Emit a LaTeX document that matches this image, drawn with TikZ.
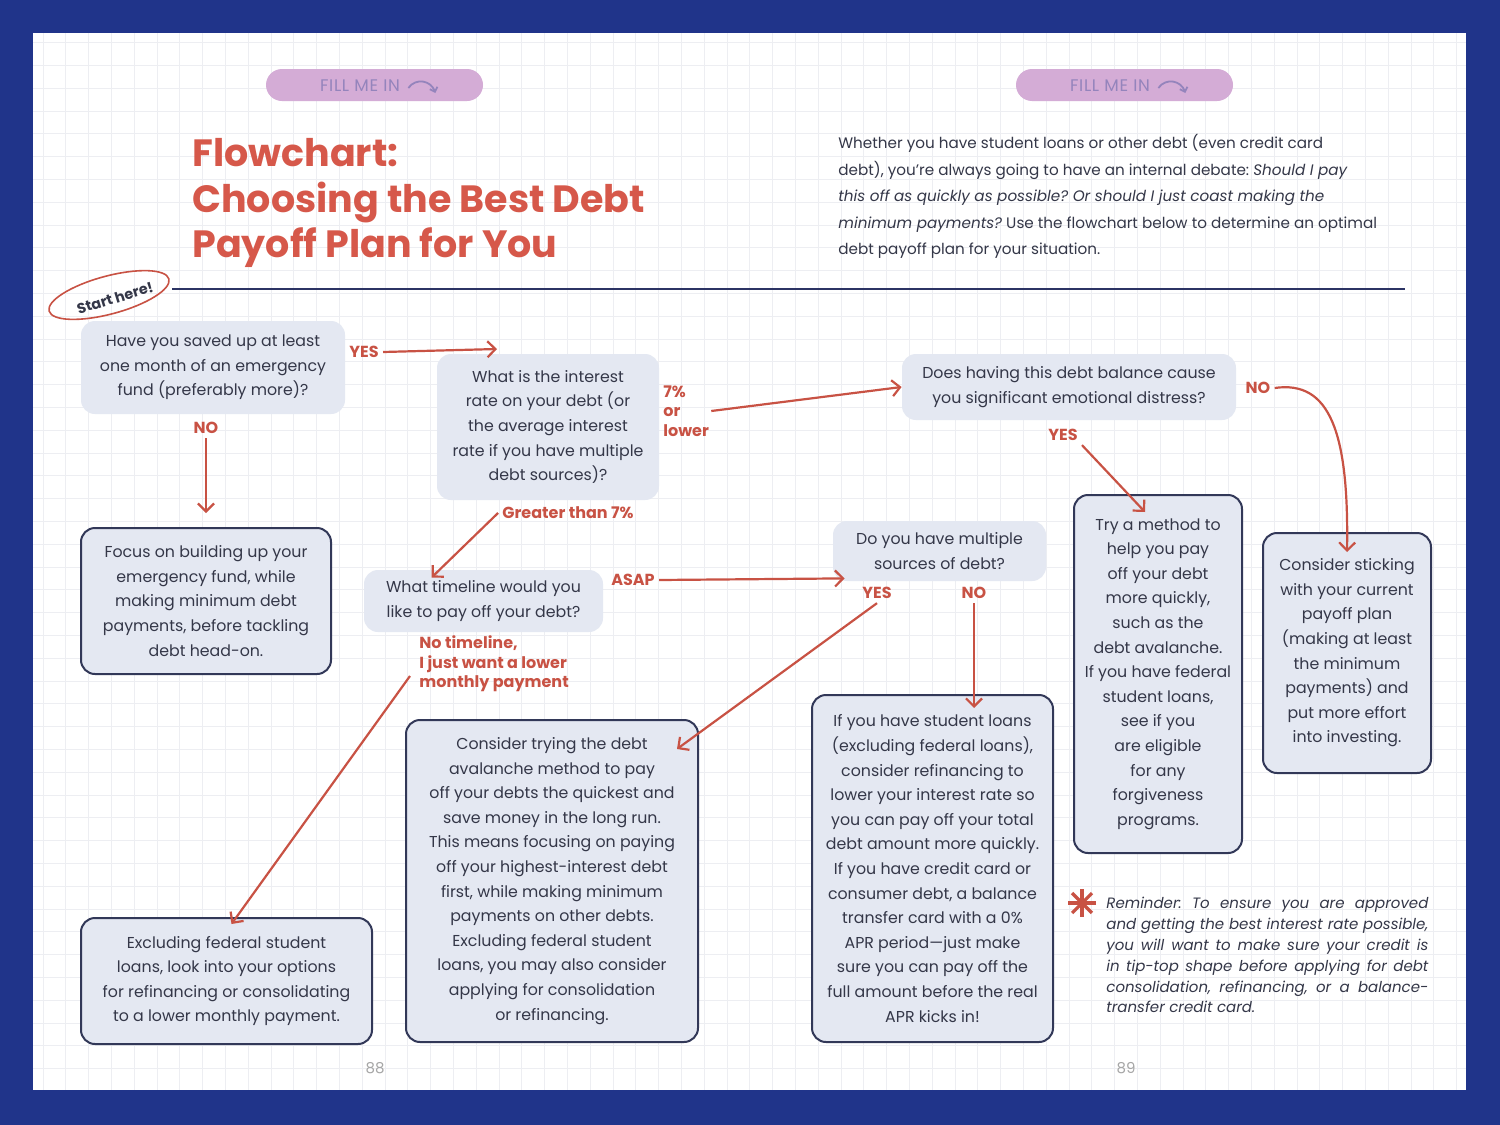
\documentclass[tikz,border=0pt]{standalone}
\usepackage{fontspec}
\setmainfont{Poppins}
\newfontfamily\pillfont{Poppins}[LetterSpace=4]
\usetikzlibrary{arrows.meta,positioning}
\definecolor{navy}{RGB}{32,52,138}
\definecolor{gridc}{RGB}{237,238,242}
\definecolor{boxfill}{RGB}{228,232,242}
\definecolor{boxline}{RGB}{50,56,88}
\definecolor{ink}{RGB}{52,55,72}
\definecolor{redc}{RGB}{200,82,68}
\definecolor{titlered}{RGB}{214,88,74}
\definecolor{pillc}{RGB}{212,172,214}
\definecolor{pilltext}{RGB}{148,132,188}
\definecolor{rulec}{RGB}{44,52,100}
\frenchspacing
\begin{document}
\begin{tikzpicture}[x=0.5pt,y=-0.5pt,
  qbox/.style={fill=boxfill,rounded corners=7pt,align=center,text=ink,inner sep=0pt,
    font=\fontsize{7.9}{12.3}\selectfont},
  rbox/.style={qbox,draw=boxline,line width=1pt},
  lbl/.style={text=redc,inner sep=2pt,font=\bfseries\fontsize{8}{9.75}\selectfont},
  arr/.style={draw=redc,line width=1.1pt,-{Straight Barb[length=4pt,width=8pt]}},
  pill/.style={fill=pillc,rounded corners=8pt,minimum width=108.5pt,minimum height=16pt,inner sep=0pt}]
\useasboundingbox (0,0) rectangle (1500,1125);
\fill[navy] (0,0) rectangle (1500,1125);
\fill[white] (33,33) rectangle (1466,1090);
% grid paper
\begin{scope}
\clip (33,33) rectangle (1466,1090);
\foreach \i in {0,...,62} \draw[gridc,line width=0.5pt] (43+\i*22.8,33) -- (43+\i*22.8,1090);
\foreach \j in {0,...,46} \draw[gridc,line width=0.5pt] (33,42.7+\j*22.8) -- (1466,42.7+\j*22.8);
\end{scope}
% header
\node[pill] (pillL) at (374.5,85) {};
\node[pill] (pillR) at (1124.5,85) {};
\node[inner sep=0pt,text=pilltext,font=\pillfont\fontsize{8.4}{9}\selectfont] (fillL) at (360,86) {FILL ME IN};
\node[inner sep=0pt,text=pilltext,font=\pillfont\fontsize{8.4}{9}\selectfont] (fillR) at (1110,86) {FILL ME IN};
\foreach \f in {fillL,fillR}
  \draw[pilltext,line width=0.9pt,-{Straight Barb[length=2pt,width=4pt]}] ([xshift=4pt,yshift=-1pt]\f.east) .. controls +(8,-11) and +(-4,-12) .. +(27,5);
\node[anchor=north west,align=left,inner sep=0pt,text=titlered,font=\bfseries\fontsize{19}{22.75}\selectfont] (title) at (192,138) {Flowchart:\\Choosing the Best Debt\\Payoff Plan for You};
\node[anchor=north west,align=left,inner sep=0pt,text=ink,font=\fontsize{7.6}{13.25}\selectfont] (intro) at (838,134)
  {Whether you have student loans or other debt (even credit card\\
   debt), you’re always going to have an internal debate: \textit{Should I pay}\\
   \textit{this off as quickly as possible? Or should I just coast making the}\\
   \textit{minimum payments?} Use the flowchart below to determine an optimal\\
   debt payoff plan for your situation.};
\draw[rulec,line width=0.8pt] (172,289) -- (1405,289);
\draw[redc,line width=0.8pt,rotate around={15:(109,295)}] (109,295) ellipse [x radius=31pt,y radius=9.5pt];
\node[rotate=17,inner sep=0pt,text=ink,font=\bfseries\fontsize{7.2}{8}\selectfont] (start) at (115,298) {Start here!};
% questions
\node[qbox,minimum width=132pt,minimum height=46.5pt] (q1) at (213,367.5)
  {Have you saved up at least\\one month of an emergency\\fund (preferably more)?};
\node[qbox,minimum width=111pt,minimum height=73pt] (q2) at (548,427)
  {What is the interest\\rate on your debt (or\\the average interest\\rate if you have multiple\\debt sources)?};
\node[qbox,minimum width=167pt,minimum height=33pt] (q3) at (1069,387)
  {Does having this debt balance cause\\you significant emotional distress?};
\node[qbox,minimum width=119.5pt,minimum height=31pt] (q4) at (483.5,601)
  {What timeline would you\\like to pay off your debt?};
\node[qbox,minimum width=106.5pt,minimum height=30pt] (q5) at (939.5,551)
  {Do you have multiple\\sources of debt?};
% results
\node[rbox,minimum width=125pt,minimum height=73pt] (r1) at (206,601)
  {Focus on building up your\\emergency fund, while\\making minimum debt\\payments, before tackling\\debt head-on.};
\node[rbox,minimum width=145.5pt,minimum height=63pt] (r2) at (226.5,981)
  {Excluding federal student\\loans, look into your options\\for refinancing or consolidating\\to a lower monthly payment.};
\node[rbox,minimum width=146pt,minimum height=161pt] (r3) at (552,881)
  {Consider trying the debt\\avalanche method to pay\\off your debts the quickest and\\save money in the long run.\\This means focusing on paying\\off your highest-interest debt\\first, while making minimum\\payments on other debts.\\Excluding federal student\\loans, you may also consider\\applying for consolidation\\or refinancing.};
\node[rbox,minimum width=120.5pt,minimum height=173.5pt] (r4) at (932.5,868.5)
  {If you have student loans\\(excluding federal loans),\\consider refinancing to\\lower your interest rate so\\you can pay off your total\\debt amount more quickly.\\If you have credit card or\\consumer debt, a balance\\transfer card with a 0\%\\APR period—just make\\sure you can pay off the\\full amount before the real\\APR kicks in!};
\node[rbox,minimum width=84pt,minimum height=179pt] (r5) at (1158,674)
  {Try a method to\\help you pay\\off your debt\\more quickly,\\such as the\\debt avalanche.\\If you have federal\\student loans,\\see if you\\are eligible\\for any\\forgiveness\\programs.};
\node[rbox,minimum width=84pt,minimum height=120pt] (r6) at (1347,653)
  {Consider sticking\\with your current\\payoff plan\\(making at least\\the minimum\\payments) and\\put more effort\\into investing.};
% answer labels
\node[lbl] (yes1) at (364,352) {YES};
\node[lbl] (no1) at (206,428) {NO};
\node[lbl,anchor=west,align=left,inner sep=0pt] (low) at (663,411) {7\%\\or\\lower};
\node[lbl] (gt) at (568,513) {Greater than 7\%};
\node[lbl,anchor=west,align=left,inner sep=0pt] (notl) at (419,664) {No timeline,\\I just want a lower\\monthly payment};
\node[lbl] (asap) at (633,580) {ASAP};
\node[lbl] (yes5) at (877,593) {YES};
\node[lbl] (no5) at (974,593) {NO};
\node[lbl] (yes3) at (1063,435) {YES};
\node[lbl] (no3) at (1258,388) {NO};
% connectors
\coordinate (q2in) at (497,349);
\coordinate (r4in) at ([yshift=-7pt]r4.north);
\draw[arr] (yes1.east) -- (q2in);
\draw[arr] (no1.south) -- ([yshift=7pt]r1.north);
\draw[arr] ([xshift=1pt]low.east) -- (q3.west);
\draw[arr] (gt.west) -- ([shift={(-26pt,-4pt)}]q4.north);
\draw[arr] (asap.east) -- ([shift={(6pt,1.5pt)}]q5.south west);
\draw[arr] ([xshift=-4.5pt,yshift=-6pt]notl.west) -- ([shift={(2.5pt,-3.5pt)}]r2.north);
\draw[arr] (yes5.south) -- ([shift={(-11pt,-15pt)}]r3.north east);
\draw[arr] (no5.south) -- (no5.south |- r4in);
\draw[arr] (yes3.south east) -- ([shift={(-6.5pt,-9pt)}]r5.north);
\draw[arr] (no3.east) .. controls +(55,-8) and +(2,-120) .. ([yshift=-10pt]r6.north);
% reminder
\foreach \a in {0,45,90,135}
  \draw[redc,line width=1.6pt] (1082,903) +(\a:7pt) -- +(\a+180:7pt);
\node[anchor=north west,inner sep=0pt,text width=161pt,align=justify,text=ink,
  font=\itshape\fontsize{7.5}{10.4}\selectfont] (remind) at (1106,897)
  {Reminder: To ensure you are approved\linebreak and getting the best interest rate possible,\linebreak you will want to make sure your credit is\linebreak in tip-top shape before applying for debt\linebreak consolidation, refinancing, or a balance-\linebreak transfer credit card.};
% page numbers
\node[text=black!35,font=\fontsize{7.5}{8}\selectfont] (p88) at (375,1068) {88};
\node[text=black!35,font=\fontsize{7.5}{8}\selectfont] (p89) at (1126,1068) {89};
\end{tikzpicture}
\end{document}
